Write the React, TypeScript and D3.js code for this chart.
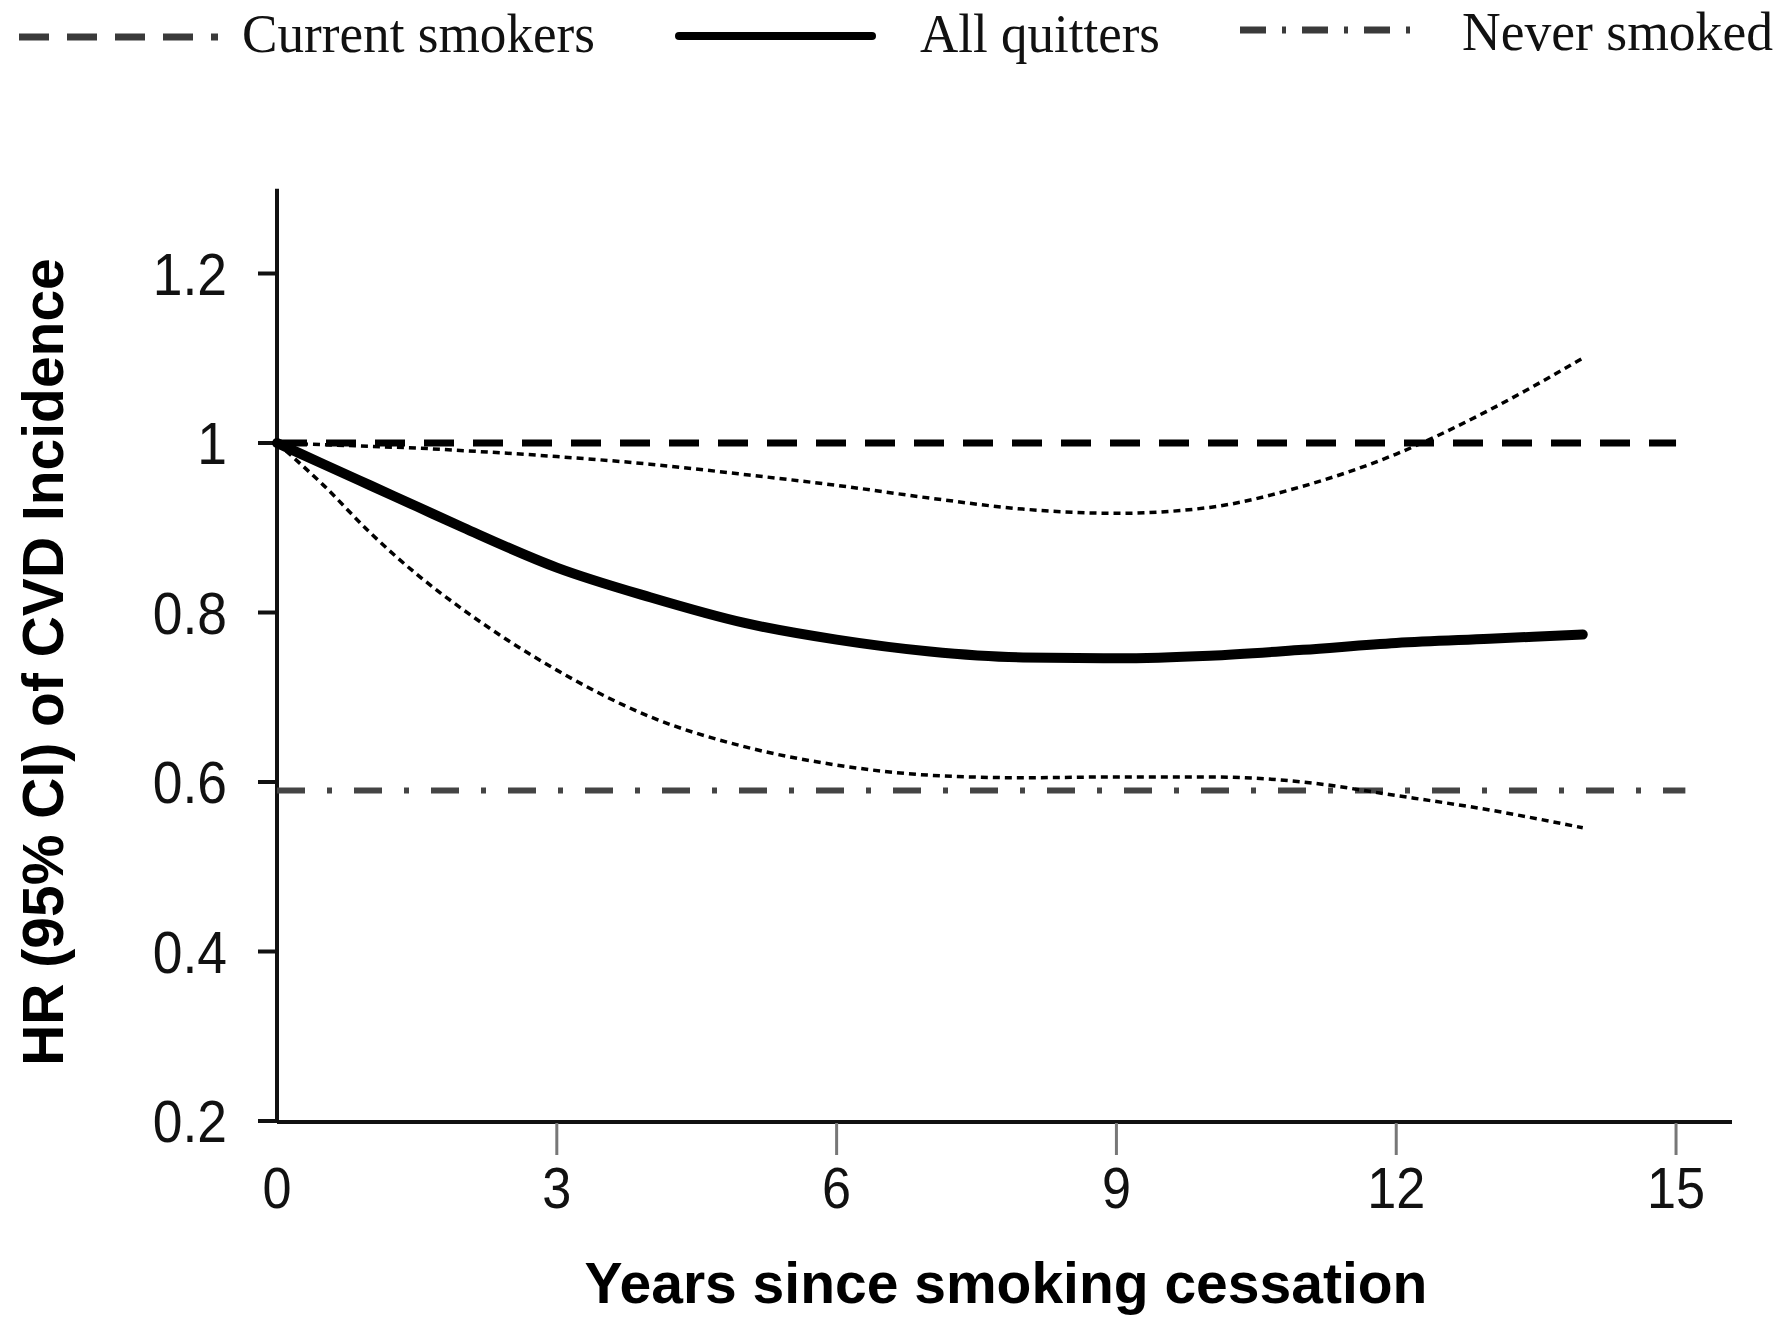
import React from "react";
import * as d3 from "d3";

// ---- data ----
const years = [0, 0.5, 1, 1.5, 2, 3, 4, 5, 6, 7, 8, 9, 10, 11, 12, 13, 14];
const hrQuitters = [1.0, 0.975, 0.95, 0.925, 0.9, 0.853, 0.818, 0.788, 0.768, 0.754, 0.747, 0.746, 0.749, 0.756, 0.764, 0.769, 0.774];
const hrLower = [1.0, 0.95, 0.894, 0.845, 0.803, 0.732, 0.677, 0.642, 0.62, 0.608, 0.605, 0.606, 0.606, 0.6, 0.584, 0.567, 0.546];
const hrUpper = [1.0, 0.998, 0.996, 0.994, 0.991, 0.984, 0.975, 0.963, 0.95, 0.935, 0.922, 0.917, 0.924, 0.949, 0.987, 1.039, 1.1];
const currentYears = [0, 15];
const currentHR = [1.0, 1.0];
const neverYears = [0, 15.1];
const neverHR = [0.59, 0.59];
const xTicks = [0, 3, 6, 9, 12, 15];
const yTicks = [0.2, 0.4, 0.6, 0.8, 1.0, 1.2];
const yTickLabels = ["0.2", "0.4", "0.6", "0.8", "1", "1.2"];
const legendLabels = ["Current smokers", "All quitters", "Never smoked"];
const xTitle = "Years since smoking cessation";
const yTitle = "HR (95% CI) of CVD Incidence";

export default function App() {
  const x = d3.scaleLinear().domain([0, 15.6]).range([277, 1732]);
  const y = d3.scaleLinear().domain([0.2, 1.3]).range([1121, 1121 - 1.1 * 847.5]);

  const line = d3
    .line<[number, number]>()
    .x((d) => x(d[0]))
    .y((d) => y(d[1]))
    .curve(d3.curveMonotoneX);
  const straight = d3
    .line<[number, number]>()
    .x((d) => x(d[0]))
    .y((d) => y(d[1]));

  const zip = (a: number[], b: number[]) => a.map((v, i) => [v, b[i]] as [number, number]);

  const sans = "'Liberation Sans', Arial, sans-serif";
  const serif = "'Liberation Serif', 'Times New Roman', serif";

  const x0 = x(0);
  const yBase = y(0.2);
  const yTop = y(1.3);

  return (
    <svg
      width={1780}
      height={1321}
      style={{ position: "absolute", left: 0, top: 0, background: "#fff" }}
    >
      <rect x={0} y={0} width={1780} height={1321} fill="#fff" />

      {/* Legend */}
      <g>
        <line x1={19} x2={218} y1={37} y2={37} stroke="#3a3a3a" strokeWidth={7} strokeDasharray="30 18" />
        <text x={242} y={52} fontFamily={serif} fontSize={55} textLength={353} lengthAdjust="spacingAndGlyphs" fill="#111">
          {legendLabels[0]}
        </text>
        <line x1={679} x2={872} y1={36} y2={36} stroke="#000" strokeWidth={8} strokeLinecap="round" />
        <text x={920} y={52} fontFamily={serif} fontSize={55} textLength={240} lengthAdjust="spacingAndGlyphs" fill="#111">
          {legendLabels[1]}
        </text>
        <line x1={1240} x2={1421} y1={30} y2={30} stroke="#3a3a3a" strokeWidth={7} strokeDasharray="26 16 4 16" />
        <text x={1462} y={50} fontFamily={serif} fontSize={55} textLength={311} lengthAdjust="spacingAndGlyphs" fill="#111">
          {legendLabels[2]}
        </text>
      </g>

      {/* Axes */}
      <line x1={x0} x2={x0} y1={yTop} y2={yBase + 2} stroke="#111" strokeWidth={4} />
      <line x1={x0} x2={x(15.6)} y1={yBase + 1} y2={yBase + 1} stroke="#111" strokeWidth={4} />

      {yTicks.map((t, i) => (
        <g key={"yt" + i}>
          <line x1={x0 - 19} x2={x0} y1={y(t)} y2={y(t)} stroke="#111" strokeWidth={4} />
          <text
            transform={`translate(${x0 - 50},${y(t) + 21}) scale(0.89,1)`}
            textAnchor="end"
            fontFamily={sans}
            fontSize={60}
            fill="#111"
          >
            {yTickLabels[i]}
          </text>
        </g>
      ))}

      {xTicks.map((t, i) => (
        <g key={"xt" + i}>
          {t !== 0 && (
            <line x1={x(t)} x2={x(t)} y1={yBase + 2} y2={yBase + 34} stroke="#777" strokeWidth={3} />
          )}
          <text
            transform={`translate(${x(t)},${1208}) scale(0.9,1)`}
            textAnchor="middle"
            fontFamily={sans}
            fontSize={58}
            fill="#111"
          >
            {String(t)}
          </text>
        </g>
      ))}

      {/* Titles */}
      <text x={1006} y={1303} textAnchor="middle" fontFamily={sans} fontWeight="bold" fontSize={57} fill="#000">
        {xTitle}
      </text>
      <text
        transform={`translate(63,662) rotate(-90)`}
        textAnchor="middle"
        fontFamily={sans}
        fontWeight="bold"
        fontSize={57}
        fill="#000"
      >
        {yTitle}
      </text>

      {/* Reference lines */}
      <path d={straight(zip(currentYears, currentHR)) || ""} fill="none" stroke="#000" strokeWidth={7} strokeDasharray="30 19" />
      <path d={straight(zip(neverYears, neverHR)) || ""} fill="none" stroke="#444" strokeWidth={6} strokeDasharray="28 22 5 22" />

      {/* Confidence interval */}
      <path d={line(zip(years, hrUpper)) || ""} fill="none" stroke="#000" strokeWidth={3.5} strokeDasharray="7 5" />
      <path d={line(zip(years, hrLower)) || ""} fill="none" stroke="#000" strokeWidth={3.5} strokeDasharray="7 5" />

      {/* All quitters */}
      <path d={line(zip(years, hrQuitters)) || ""} fill="none" stroke="#000" strokeWidth={10} strokeLinecap="round" />
    </svg>
  );
}
